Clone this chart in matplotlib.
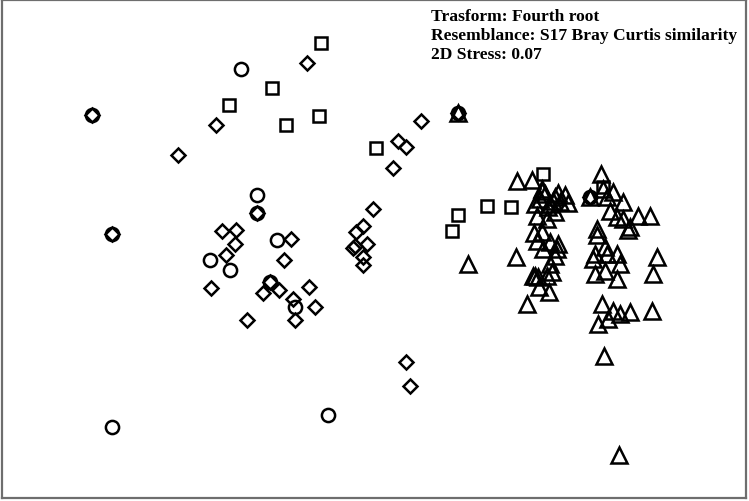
import matplotlib
matplotlib.use("Agg")
import matplotlib.pyplot as plt

# nMDS ordination coordinates (arbitrary units, y downwards)
circle_x = [92, 241, 112, 257, 257, 277, 210, 230, 270, 295, 112, 328, 458, 590]
circle_y = [116, 70, 235, 196, 214, 241, 261, 271, 283, 308, 428, 416, 114, 198]

diamond_x = [92, 112, 257, 270, 307, 216, 178, 421, 398, 406, 393, 458,
             222, 236, 235, 226, 211, 284, 291, 309, 279, 263, 315, 293, 295, 247,
             373, 356, 363, 353, 355, 367, 363, 363, 406, 410, 590]
diamond_y = [116, 235, 214, 283, 64, 126, 156, 122, 142, 148, 169, 114,
             232, 231, 245, 256, 289, 261, 240, 288, 291, 294, 308, 300, 321, 321,
             210, 233, 227, 249, 247, 245, 258, 266, 363, 387, 198]

square_x = [321, 272, 229, 286, 319, 376, 543, 487, 511, 458, 452, 603]
square_y = [44, 89, 106, 126, 117, 149, 175, 207, 208, 216, 232, 188]

triangle_x = [458, 517, 532, 601, 468, 516, 527,
              540, 545, 550, 555, 560, 565, 535, 542, 548, 553, 558, 568, 542,
              537, 547, 555, 534, 542, 537, 550, 558, 543, 557, 555, 550,
              552, 535, 547, 539, 549, 533, 538,
              590, 603, 613, 607, 623, 610, 617, 623, 638, 650, 630, 597,
              597, 628, 605, 595, 607, 617, 593, 620, 605, 595, 617, 657, 653,
              602, 613, 620, 630, 652, 608, 598, 604, 619]
triangle_y = [114, 182, 181, 175, 265, 258, 305,
              200, 195, 205, 198, 203, 196, 205, 192, 208, 202, 194, 204, 190,
              217, 220, 213, 234, 233, 242, 243, 245, 250, 250, 257, 265,
              273, 277, 277, 288, 293, 277, 278,
              198, 190, 193, 198, 203, 212, 218, 220, 217, 217, 228, 230,
              236, 231, 248, 255, 255, 255, 260, 265, 272, 275, 280, 258, 275,
              305, 312, 315, 313, 312, 320, 325, 357, 456]

notes = ["Trasform: Fourth root",
         "Resemblance: S17 Bray Curtis similarity",
         "2D Stress: 0.07"]

W, H = 749, 502
fig = plt.figure(figsize=(W / 100, H / 100), dpi=100)
ax = fig.add_axes([2 / W, 1 - 499 / H, 744 / W, 498 / H])
ax.set_xlim(2, 746)
ax.set_ylim(499, 1)

style = dict(linestyle="none", markerfacecolor="none", markeredgecolor="black",
             markeredgewidth=1.8)
ax.plot(circle_x, circle_y, marker="o", markersize=9.5, **style)
ax.plot(diamond_x, diamond_y, marker="D", markersize=7, **style)
ax.plot(square_x, square_y, marker="s", markersize=8.5, **style)
ax.plot(triangle_x, triangle_y, marker="^", markersize=11.5, **style)

ax.set_xticks([])
ax.set_yticks([])
for sp in ax.spines.values():
    sp.set_color("#6e6e6e")
    sp.set_linewidth(1.6)

for i, line in enumerate(notes):
    ax.text(431, 17 + i * 19, line, family="Liberation Serif", fontweight="bold",
            fontsize=12.6, va="center", ha="left")

fig.savefig("out.png", dpi=100, facecolor="white")
